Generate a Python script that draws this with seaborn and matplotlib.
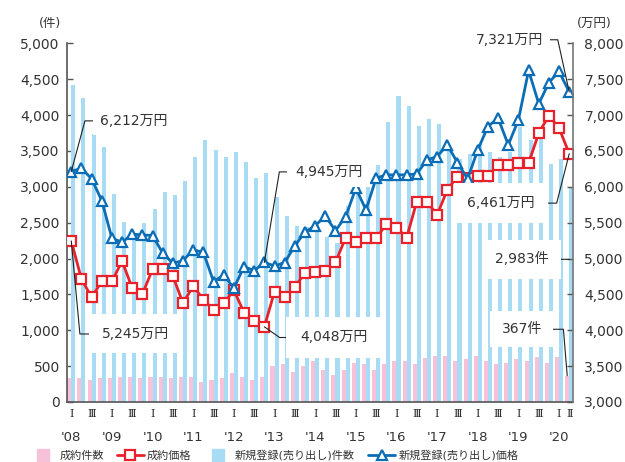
"""
Quarterly market chart: contract / new-listing counts (bars, left axis)
and contract / new-listing prices (lines, right axis), 2008 Q1 - 2020 Q2.
"""

import numpy as np
import pandas as pd
import matplotlib
matplotlib.use("Agg")
import matplotlib.pyplot as plt
import seaborn as sns
from matplotlib.lines import Line2D
from matplotlib.ticker import FuncFormatter, MultipleLocator

sns.set_theme(style="white")
plt.rcParams["font.family"] = ["DejaVu Sans", "Noto Sans CJK JP"]


# ─────────────────────────────────────────────
# Data (2008 Q1 ... 2020 Q2)
# ─────────────────────────────────────────────

years = ["'08", "'09", "'10", "'11", "'12", "'13", "'14",
         "'15", "'16", "'17", "'18", "'19", "'20"]
quarter_marks = ["Ⅰ", "", "Ⅲ", ""] * 12 + ["Ⅰ", "Ⅱ"]

# 成約件数
contract_count = [330, 330, 307, 330, 330, 353, 353, 330, 353, 353,
                  330, 353, 353, 283, 307, 330, 409, 353, 307, 353,
                  502, 530, 423, 505, 572, 446, 377, 446, 549, 525,
                  446, 525, 572, 572, 525, 618, 646, 646, 572, 600,
                  646, 572, 525, 549, 600, 572, 623, 549, 623, 367]

# 新規登録(売り出し)件数
listing_count = [4420, 4240, 3730, 3560, 2905, 2515, 2350, 2495, 2690, 2930,
                 2880, 3075, 3415, 3655, 3510, 3415, 3490, 3340, 3120, 3190,
                 2855, 2590, 2450, 2445, 2470, 2300, 2220, 2735, 3000, 3285,
                 3300, 3900, 4270, 4120, 3850, 3950, 3880, 3550, 3385, 3450,
                 3600, 3480, 3420, 3480, 3830, 3655, 3700, 3320, 3390, 2983]

# 成約価格 (万円)
contract_price = [5245, 4715, 4460, 4680, 4680, 4965, 4585, 4505, 4850, 4850,
                  4755, 4375, 4620, 4425, 4285, 4375, 4560, 4245, 4135, 4048,
                  4538, 4460, 4600, 4803, 4817, 4827, 4948, 5291, 5236, 5283,
                  5283, 5478, 5431, 5291, 5794, 5794, 5608, 5957, 6142, 6120,
                  6152, 6152, 6305, 6305, 6329, 6329, 6748, 6993, 6817, 6461]

# 新規登録(売り出し)価格 (万円)
listing_price = [6212, 6259, 6110, 5808, 5283, 5227, 5339, 5329, 5320, 5074,
                 4934, 4971, 5120, 5088, 4678, 4771, 4586, 4887, 4831, 4945,
                 4897, 4943, 5180, 5367, 5459, 5590, 5389, 5584, 5980, 5678,
                 6120, 6166, 6166, 6166, 6180, 6375, 6421, 6584, 6337, 6110,
                 6515, 6840, 6957, 6584, 6933, 7621, 7156, 7453, 7607, 7321]

labels = ["成約件数", "成約価格", "新規登録(売り出し)件数", "新規登録(売り出し)価格"]

PINK = "#F6C1D9"
SKY = "#A8DCF5"
RED = "#E8212B"
BLUE = "#0A6DB6"
INK = "#333333"
AXIS = "#555555"

n = len(contract_count)
q = np.arange(n)
comma = FuncFormatter(lambda v, _: f"{v:,.0f}")

# ─────────────────────────────────────────────
# Figure
# ─────────────────────────────────────────────

fig = plt.figure(figsize=(6.25, 4.62), dpi=100)
ax = fig.add_axes([0.1067, 0.1299, 0.8106, 0.7764])

bars = pd.DataFrame({
    "q": np.tile(q, 2),
    "count": contract_count + listing_count,
    "kind": [labels[0]] * n + [labels[2]] * n,
})
sns.barplot(data=bars, x="q", y="count", hue="kind", hue_order=[labels[0], labels[2]],
            palette=[PINK, SKY], saturation=1, errorbar=None, width=0.8,
            linewidth=0, legend=False, ax=ax)

ax.set_xlim(-0.45, n - 0.6)
ax.set_ylim(0, 5000)
ax.set_xlabel("")
ax.set_ylabel("")
ax.yaxis.set_major_locator(MultipleLocator(500))
ax.yaxis.set_major_formatter(comma)
ax.set_xticks(np.arange(1.5, n - 1, 2))
ax.tick_params(axis="x", direction="in", length=4, width=1, color=AXIS, labelbottom=False)
ax.tick_params(axis="y", direction="in", length=4, width=1, color=AXIS,
               labelsize=10, labelcolor=INK, pad=5)
for side in ["top", "right"]:
    ax.spines[side].set_visible(False)
for side in ["left", "bottom"]:
    ax.spines[side].set_color(AXIS)
    ax.spines[side].set_linewidth(1.2)

# quarter marks and years under the axis
xform = ax.get_xaxis_transform()
for i, mark in enumerate(quarter_marks):
    if mark:
        ax.text(i, -0.034, mark, transform=xform, ha="center", va="center",
                fontsize=8, color=INK, family=["DejaVu Serif", "Noto Sans CJK JP"])
for k, yr in enumerate(years):
    ax.text(4 * k, -0.098, yr, transform=xform, ha="center", va="center",
            fontsize=9.5, color=INK)

# price lines on the right axis
ax2 = ax.twinx()
sns.lineplot(x=q, y=contract_price, ax=ax2, color=RED, linewidth=2, marker="s",
             markersize=6.5, markerfacecolor="white", markeredgecolor=RED, markeredgewidth=1.6)
sns.lineplot(x=q, y=listing_price, ax=ax2, color=BLUE, linewidth=2, marker="^",
             markersize=7.5, markerfacecolor="white", markeredgecolor=BLUE, markeredgewidth=1.6)
ax2.set_ylim(3000, 8000)
ax2.set_ylabel("")
ax2.yaxis.set_major_locator(MultipleLocator(500))
ax2.yaxis.set_major_formatter(comma)
ax2.tick_params(axis="y", direction="in", length=4, width=1, color=AXIS,
                labelsize=10, labelcolor=INK, pad=8)
for side in ["top", "left", "bottom"]:
    ax2.spines[side].set_visible(False)
ax2.spines["right"].set_color("#777777")
ax2.spines["right"].set_linewidth(1.2)

# ─────────────────────────────────────────────
# Call-outs
# ─────────────────────────────────────────────

def callout(text, xy, offset, ha, pad, angle=None, coords=None):
    style = "arc3" if angle is None else f"angle,angleA=0,angleB={angle},rad=0"
    ax2.annotate(text, xy=xy, xycoords=coords or ax2.transData,
                 xytext=offset, textcoords="offset points", ha=ha, va="center",
                 fontsize=10, color=INK,
                 bbox=dict(boxstyle=f"square,pad={pad}", fc="white", ec="none"),
                 arrowprops=dict(arrowstyle="-", color="#222222", lw=0.8,
                                 shrinkA=0, shrinkB=0, connectionstyle=style))


callout(f"{listing_price[0]:,}万円", (0, listing_price[0]), (20.7, 36.5), "left", 0.5, 74.9)
callout(f"{contract_price[0]:,}万円", (0, contract_price[0]), (21.9, -67.0), "left", 0.9, -84.7)
callout(f"{listing_price[19]:,}万円", (19, listing_price[19]), (22.1, 65.2), "left", 0.55, 80.6)
callout(f"{contract_price[19]:,}万円", (19, contract_price[19]), (25.7, -7.7), "left", 1.0, -35)
callout(f"{listing_price[-1]:,}万円", (n - 1, listing_price[-1]), (-18.9, 37.6), "right", 0.5, -77.6)
callout(f"{contract_price[-1]:,}万円", (n - 1, contract_price[-1]), (-24.7, -35.6), "right", 0.95, 75.7)
callout(f"{listing_count[-1]:,}件", (n - 1, listing_count[-1] * 2 / 3), (-15.2, 0),
        "right", 0.9, coords=ax.transData)
callout(f"{contract_count[-1]:,}件", (n - 1.2, contract_count[-1]), (-18.3, 33.4),
        "right", 0.8, 94.7, coords=ax.transData)

# unit labels
fig.text(50.5 / 625, 1 - 23 / 462, "(件)", ha="center", va="center", fontsize=9, color=INK)
fig.text(594 / 625, 1 - 23 / 462, "(万円)", ha="center", va="center", fontsize=9, color=INK)

# legend
handles = [
    Line2D([], [], ls="none", marker="s", markersize=8, markerfacecolor=PINK, markeredgecolor=PINK),
    Line2D([], [], color=RED, lw=2, marker="s", markersize=6.5, markerfacecolor="white",
           markeredgecolor=RED, markeredgewidth=1.6),
    Line2D([], [], ls="none", marker="s", markersize=8, markerfacecolor=SKY, markeredgecolor=SKY),
    Line2D([], [], color=BLUE, lw=2, marker="^", markersize=7.5, markerfacecolor="white",
           markeredgecolor=BLUE, markeredgewidth=1.6),
]
fig.legend(handles, labels, loc="center", bbox_to_anchor=(0.438, 0.0152), ncol=4,
           frameon=False, fontsize=8, handlelength=2.4, handletextpad=0.3,
           columnspacing=1.2, labelcolor=INK)

fig.savefig("out.png", dpi=100)
